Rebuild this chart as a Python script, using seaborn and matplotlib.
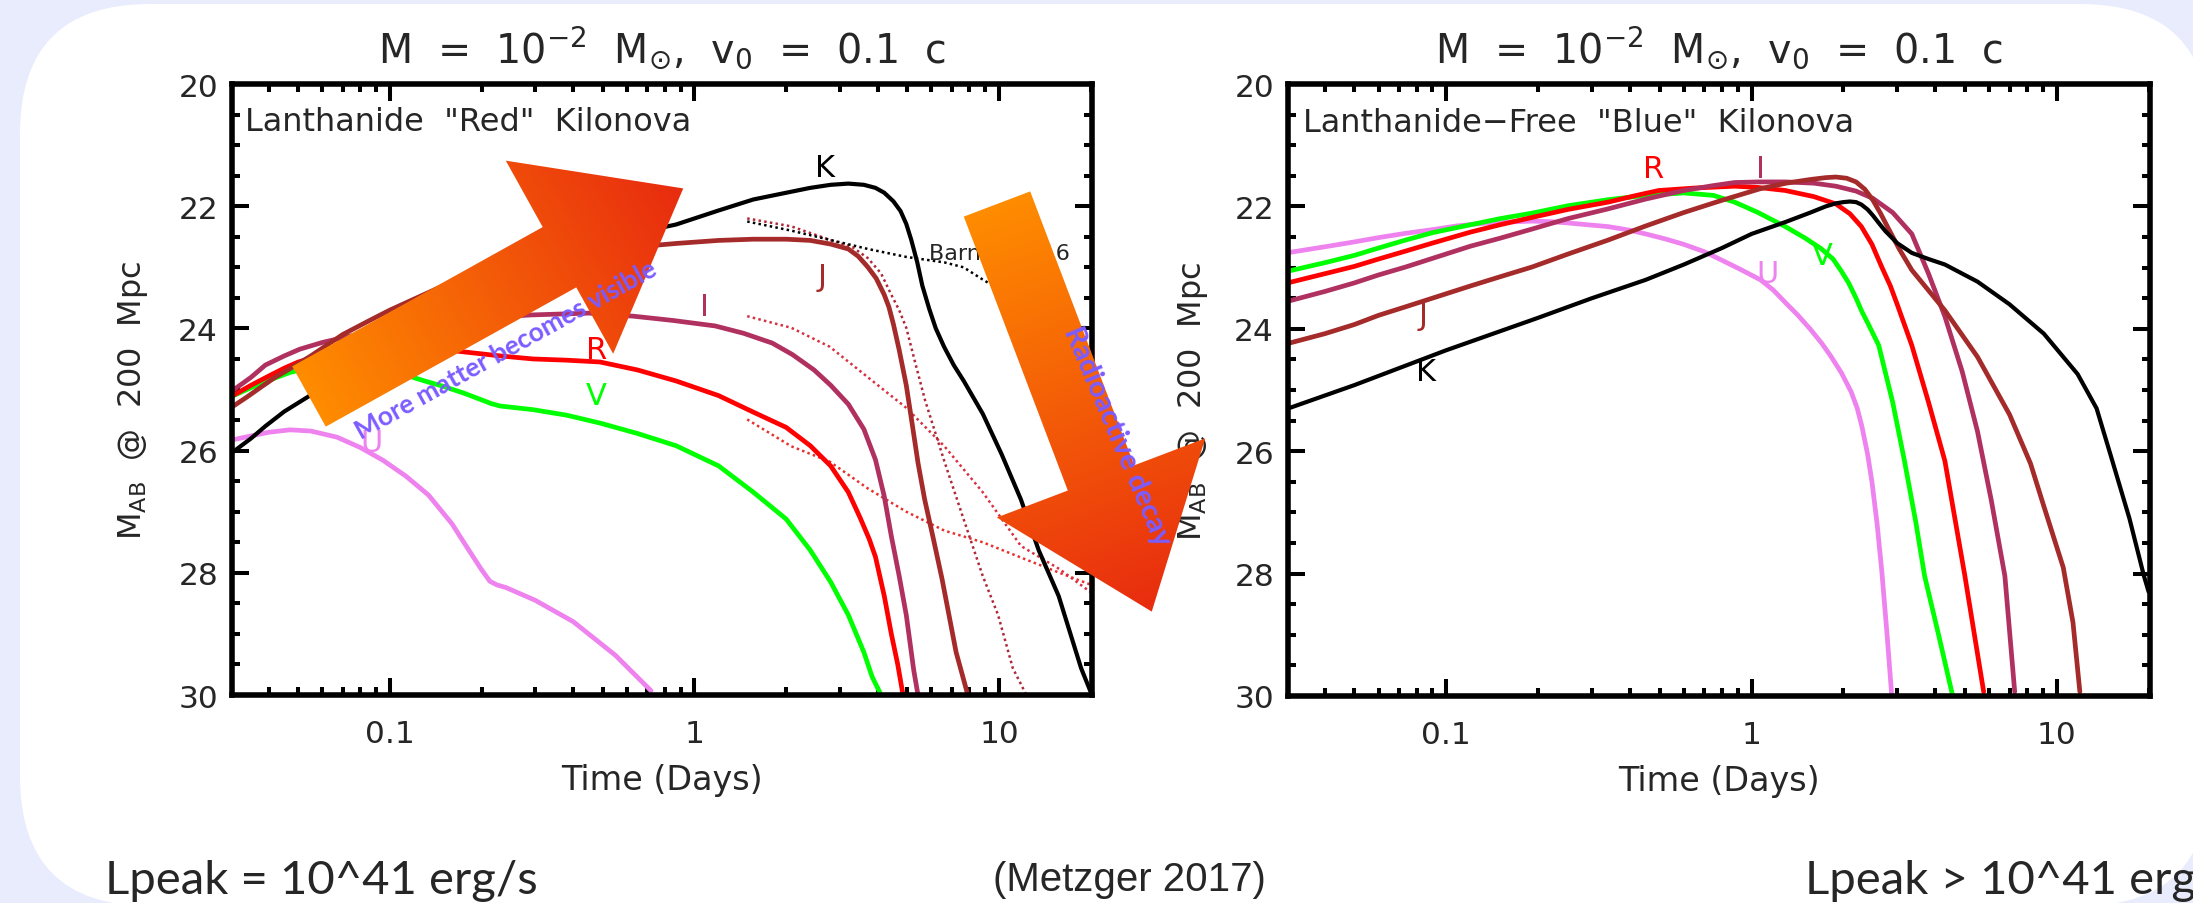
import numpy as np
import matplotlib
matplotlib.use("Agg")
import matplotlib.pyplot as plt
import seaborn as sns
from matplotlib.patches import Polygon, FancyBboxPatch
from matplotlib.ticker import MultipleLocator, FixedLocator, LogLocator, NullFormatter

# ---------------- Lanthanide "Red" kilonova (time in days, M_AB @ 200 Mpc)
red_U_t = [0.03, 0.035, 0.04, 0.047, 0.055, 0.067, 0.08, 0.095, 0.113, 0.134, 0.16, 0.18, 0.2, 0.213, 0.225,
           0.24, 0.3, 0.4, 0.55, 0.72]
red_U_m = [25.83, 25.76, 25.7, 25.66, 25.68, 25.78, 25.95, 26.16, 26.42, 26.73, 27.2, 27.6, 27.95, 28.14, 28.2,
           28.24, 28.45, 28.8, 29.35, 29.93]

red_V_t = [0.03, 0.035, 0.04, 0.047, 0.055, 0.065, 0.077, 0.09, 0.1, 0.1135, 0.13, 0.15, 0.175, 0.2, 0.215, 0.23,
           0.295, 0.38, 0.49, 0.65, 0.87, 1.2, 1.56, 2.0, 2.4, 2.8, 3.2, 3.6, 3.83, 4.1]
red_V_m = [25.12, 24.97, 24.85, 24.72, 24.64, 24.6, 24.6, 24.65, 24.7, 24.77, 24.86, 24.95, 25.06, 25.17, 25.23, 25.27,
           25.33, 25.42, 25.55, 25.72, 25.92, 26.25, 26.68, 27.12, 27.63, 28.15, 28.69, 29.3, 29.7, 30.0]

red_R_t = [0.03, 0.035, 0.04, 0.045, 0.05, 0.06, 0.07, 0.085, 0.1, 0.12, 0.14, 0.179, 0.23, 0.295, 0.38, 0.49, 0.65,
           0.87, 1.2, 1.56, 2.0, 2.4, 2.8, 3.2, 3.5, 3.75, 3.93, 4.2, 4.43, 4.65, 4.84]
red_R_m = [25.12, 24.93, 24.78, 24.65, 24.55, 24.43, 24.36, 24.31, 24.3, 24.31, 24.33, 24.39, 24.45, 24.5, 24.52, 24.55,
           24.68, 24.86, 25.1, 25.37, 25.62, 25.92, 26.25, 26.68, 27.1, 27.45, 27.74, 28.38, 29.0, 29.5, 30.0]

red_I_t = [0.03, 0.035, 0.039, 0.045, 0.0506, 0.06, 0.069, 0.085, 0.1, 0.125, 0.15, 0.2, 0.29, 0.45, 0.63, 0.85, 1.17,
           1.45, 1.8, 2.1, 2.47, 2.8, 3.2, 3.6, 3.93, 4.2, 4.43, 4.7, 4.96, 5.25, 5.42]
red_I_m = [25.04, 24.8, 24.6, 24.45, 24.34, 24.23, 24.16, 24.06, 24.0, 23.94, 23.9, 23.83, 23.78, 23.75, 23.8, 23.87,
           23.96, 24.08, 24.24, 24.43, 24.68, 24.93, 25.24, 25.65, 26.15, 26.75, 27.4, 28.05, 28.69, 29.6, 30.0]

red_J_t = [0.03, 0.034, 0.038, 0.042, 0.047, 0.055, 0.07, 0.085, 0.1, 0.125, 0.15, 0.2, 0.25, 0.32, 0.4, 0.5, 0.6,
           0.87, 1.2, 1.56, 2.0, 2.4, 2.8, 3.2, 3.45, 3.7, 3.95, 4.2, 4.35, 4.5, 4.7, 4.96, 5.2, 5.42, 5.7, 6.08, 6.5,
           7.23, 7.9]
red_J_m = [25.3, 25.12, 24.95, 24.8, 24.66, 24.45, 24.1, 23.88, 23.7, 23.48, 23.3, 23.12, 23.0, 22.89, 22.8, 22.73,
           22.68, 22.61, 22.56, 22.54, 22.54, 22.56, 22.62, 22.7, 22.82, 22.99, 23.18, 23.45, 23.65, 23.93, 24.35,
           24.93, 25.6, 26.2, 26.8, 27.43, 28.1, 29.3, 30.0]

red_K_t = [0.03, 0.035, 0.039, 0.045, 0.0546, 0.065, 0.08, 0.1, 0.12, 0.15, 0.2, 0.27, 0.35, 0.45, 0.55, 0.7, 0.87,
           1.2, 1.56, 2.0, 2.4, 2.8, 3.2, 3.6, 3.93, 4.2, 4.5, 4.75, 4.96, 5.15, 5.39, 5.6, 5.9, 6.2, 6.6, 7.1, 7.66,
           8.85, 10.2, 11.8, 13.5, 15.7, 18.6, 20.0]
red_K_m = [26.05, 25.8, 25.6, 25.36, 25.1, 24.88, 24.6, 24.33, 24.1, 23.82, 23.5, 23.2, 22.95, 22.72, 22.55, 22.4,
           22.3, 22.07, 21.89, 21.78, 21.7, 21.65, 21.63, 21.65, 21.7, 21.78, 21.92, 22.08, 22.29, 22.55, 22.92, 23.3,
           23.68, 24.0, 24.3, 24.6, 24.86, 25.4, 26.06, 26.8, 27.63, 28.38, 29.56, 29.95]

# Barnes et al. (2016) comparison models (dotted)
barnes_K_t = [1.49, 2.08, 2.78, 3.71, 4.96, 6.62, 7.65, 8.84, 9.93, 11.1]
barnes_K_m = [22.25, 22.4, 22.55, 22.7, 22.83, 22.92, 23.0, 23.2, 23.35, 23.55]

barnes_J_t = [1.49, 2.08, 2.78, 3.3, 3.71, 4.1, 4.41, 4.7, 4.96, 5.3, 5.72, 6.62, 7.65, 8.84, 9.93, 11.1, 12.3]
barnes_J_m = [22.2, 22.33, 22.55, 22.67, 22.85, 23.1, 23.43, 23.7, 23.99, 24.55, 25.18, 26.18, 27.12, 28.05, 28.69,
              29.56, 30.0]

barnes_I_t = [1.49, 2.08, 2.78, 3.71, 4.96, 6.62, 8.84, 11.8, 15.8, 19.9]
barnes_I_m = [23.8, 23.99, 24.3, 24.8, 25.3, 25.93, 26.68, 27.56, 27.94, 28.31]

barnes_R_t = [1.49, 2.08, 2.78, 3.71, 4.96, 6.62, 8.84, 11.8, 15.8, 19.9]
barnes_R_m = [25.49, 25.93, 26.18, 26.62, 27.0, 27.31, 27.5, 27.75, 28.0, 28.19]

# ---------------- Lanthanide-free "Blue" kilonova
blue_U_t = [0.0308, 0.04, 0.05, 0.06, 0.0736, 0.09, 0.108, 0.13, 0.15, 0.17, 0.191, 0.22, 0.25, 0.29, 0.339, 0.4,
            0.45, 0.52, 0.6, 0.7, 0.8, 0.92, 1.07, 1.18, 1.29, 1.42, 1.56, 1.7, 1.82, 1.97, 2.12, 2.22, 2.3, 2.4,
            2.48, 2.58, 2.67, 2.78, 2.88]
blue_U_m = [22.75, 22.66, 22.58, 22.51, 22.44, 22.38, 22.32, 22.28, 22.26, 22.25, 22.24, 22.25, 22.27, 22.3, 22.33,
            22.39, 22.45, 22.53, 22.62, 22.74, 22.88, 23.03, 23.2, 23.37, 23.57, 23.78, 24.01, 24.24, 24.45, 24.72,
            25.03, 25.3, 25.6, 26.05, 26.5, 27.2, 27.95, 29.0, 30.0]

blue_V_t = [0.0308, 0.04, 0.05, 0.06, 0.0736, 0.09, 0.12, 0.15, 0.191, 0.25, 0.339, 0.45, 0.6, 0.75, 0.88, 1.05, 1.29,
            1.5, 1.69, 1.85, 1.97, 2.08, 2.2, 2.3, 2.4, 2.5, 2.61, 2.9, 3.17, 3.45, 3.69, 4.1, 4.56]
blue_V_m = [23.05, 22.92, 22.8, 22.68, 22.55, 22.43, 22.3, 22.2, 22.11, 21.99, 21.89, 21.82, 21.78, 21.82, 21.93, 22.1,
            22.33, 22.52, 22.69, 22.86, 23.06, 23.25, 23.5, 23.72, 23.9, 24.08, 24.27, 25.2, 26.16, 27.15, 28.04, 29.0,
            30.0]

blue_R_t = [0.0308, 0.04, 0.05, 0.06, 0.0736, 0.09, 0.12, 0.15, 0.191, 0.25, 0.339, 0.42, 0.497, 0.65, 0.88, 1.05,
            1.29, 1.6, 1.89, 2.1, 2.29, 2.48, 2.67, 2.85, 3.0, 3.35, 3.8, 4.3, 5.0, 5.76]
blue_R_m = [23.24, 23.1, 22.98, 22.86, 22.73, 22.6, 22.42, 22.3, 22.18, 22.05, 21.93, 21.82, 21.74, 21.7, 21.67, 21.69,
            21.74, 21.84, 21.96, 22.12, 22.33, 22.62, 22.99, 23.3, 23.6, 24.27, 25.2, 26.16, 28.04, 29.93]

blue_I_t = [0.0308, 0.04, 0.05, 0.06, 0.0736, 0.09, 0.12, 0.15, 0.191, 0.25, 0.339, 0.45, 0.6, 0.75, 0.88, 1.05, 1.29,
            1.6, 1.89, 2.2, 2.5, 2.9, 3.35, 3.8, 4.3, 4.9, 5.5, 6.1, 6.76, 7.28]
blue_I_m = [23.54, 23.39, 23.25, 23.12, 22.99, 22.85, 22.65, 22.52, 22.37, 22.2, 22.04, 21.88, 21.74, 21.66, 21.61,
            21.6, 21.6, 21.62, 21.67, 21.75, 21.87, 22.1, 22.45, 23.1, 23.8, 24.7, 25.68, 26.8, 28.04, 29.93]

blue_J_t = [0.0308, 0.04, 0.05, 0.06, 0.0736, 0.09, 0.12, 0.15, 0.191, 0.25, 0.339, 0.45, 0.6, 0.8, 1.07, 1.3, 1.56,
            1.75, 1.89, 2.05, 2.2, 2.35, 2.5, 2.65, 2.8, 3.05, 3.35, 4.3, 5.5, 7.0, 8.2, 9.07, 10.5, 11.3, 11.9]
blue_J_m = [24.23, 24.08, 23.93, 23.78, 23.64, 23.5, 23.3, 23.15, 22.99, 22.78, 22.55, 22.32, 22.1, 21.9, 21.71, 21.62,
            21.56, 21.53, 21.52, 21.54, 21.6, 21.72, 21.9, 22.12, 22.35, 22.7, 23.04, 23.7, 24.46, 25.4, 26.2, 26.9,
            27.9, 28.8, 29.93]

blue_K_t = [0.0308, 0.05, 0.1, 0.2, 0.3, 0.45, 0.6, 0.8, 1.0, 1.3, 1.56, 1.75, 1.89, 2.0, 2.1, 2.2, 2.29, 2.4, 2.5,
            2.62, 2.74, 3.0, 3.35, 3.8, 4.3, 5.5, 7.0, 9.07, 11.7, 13.5, 15.0, 17.3, 19.3, 20.0]
blue_K_m = [25.29, 24.92, 24.35, 23.82, 23.5, 23.2, 22.95, 22.68, 22.45, 22.25, 22.1, 22.0, 21.95, 21.93, 21.92, 21.93,
            21.97, 22.05, 22.15, 22.28, 22.4, 22.6, 22.76, 22.86, 22.95, 23.23, 23.6, 24.08, 24.74, 25.3, 26.06, 27.1,
            28.04, 28.3]

# band label positions (time, magnitude)
red_labels = {"K": (2.69, 21.36), "J": (2.63, 23.15), "I": (1.08, 23.64),
              "R": (0.477, 24.34), "V": (0.477, 25.1), "U": (0.087, 25.86)}
blue_labels = {"R": (0.478, 21.38), "I": (1.066, 21.38), "V": (1.70, 22.8),
               "U": (1.13, 23.1), "J": (0.084, 23.79), "K": (0.0858, 24.7)}

band_colors = {"U": "#EE82EE", "V": "#00FF00", "R": "#FF0000",
               "I": "#B03060", "J": "#A52A2A", "K": "#000000"}

W, H = 2193, 904
BG = "#E9ECFC"
PURPLE = "#7C5CFF"

sns.set_style("ticks")
plt.rcParams["font.family"] = ["DejaVu Sans"]
plt.rcParams["mathtext.fontset"] = "dejavusans"

fig = plt.figure(figsize=(W / 100, H / 100), dpi=100, facecolor=BG)

# slide card behind the plots
bg = fig.add_axes([0, 0, 1, 1], zorder=0)
bg.set_xlim(0, W)
bg.set_ylim(H, 0)
bg.axis("off")
bg.add_patch(FancyBboxPatch((20, 5), 2190, 902, boxstyle="round,pad=0,rounding_size=130",
                            fc="white", ec="none"))

ax_l = fig.add_axes([232 / W, 1 - 696 / H, 860 / W, 611 / H], zorder=2)
ax_r = fig.add_axes([1288 / W, 1 - 697 / H, 862 / W, 612 / H], zorder=2)

title = r"M  =  10$^{-2}$  M$_{\odot}$,  v$_{0}$  =  0.1  c"


def style_axes(ax, ylab_x):
    ax.set_facecolor("white")
    ax.set_xscale("log")
    ax.set_xlim(0.0303, 20.2)
    ax.set_ylim(30, 20)
    ax.yaxis.set_major_locator(FixedLocator([20, 22, 24, 26, 28, 30]))
    ax.yaxis.set_minor_locator(MultipleLocator(0.5))
    ax.set_xticks([0.1, 1, 10], labels=["0.1", "1", "10"])
    ax.xaxis.set_minor_locator(LogLocator(base=10, subs=np.arange(2, 10), numticks=20))
    ax.xaxis.set_minor_formatter(NullFormatter())
    ax.tick_params(which="both", direction="in", top=True, right=True, width=2.9, color="black")
    ax.tick_params(which="major", length=12, labelsize=22.5, pad=10)
    ax.tick_params(axis="x", which="major", pad=17)
    ax.tick_params(which="minor", length=6)
    for sp in ax.spines.values():
        sp.set_linewidth(4)
        sp.set_color("black")
    ax.set_xlabel("Time (Days)", fontsize=24)
    ax.xaxis.set_label_coords(0.5, -0.111)
    ax.set_ylabel(r"M$_{\mathrm{AB}}$  @  200  Mpc", fontsize=23)
    ax.yaxis.set_label_coords(ylab_x, 0.483)
    ax.set_title(title, fontsize=28.5, y=1.035, pad=0)


def draw_band(ax, t, m, band, lw=3.4, ls="-", color=None):
    sns.lineplot(x=t, y=m, ax=ax, color=color or band_colors[band], linewidth=lw,
                 linestyle=ls, estimator=None, sort=False, legend=False)


dot = (0, (1, 1.3))
# red kilonova panel
draw_band(ax_l, barnes_R_t, barnes_R_m, "R", lw=1.8, ls=dot, color="#E8302F")
draw_band(ax_l, barnes_I_t, barnes_I_m, "R", lw=1.8, ls=dot, color="#D83040")
draw_band(ax_l, barnes_J_t, barnes_J_m, "J", lw=1.8, ls=dot, color="#B02838")
draw_band(ax_l, barnes_K_t, barnes_K_m, "K", lw=1.8, ls=dot, color="black")
draw_band(ax_l, red_U_t, red_U_m, "U")
draw_band(ax_l, red_V_t, red_V_m, "V")
draw_band(ax_l, red_R_t, red_R_m, "R")
draw_band(ax_l, red_I_t, red_I_m, "I")
draw_band(ax_l, red_J_t, red_J_m, "J")
draw_band(ax_l, red_K_t, red_K_m, "K", lw=3.0)

# blue kilonova panel
draw_band(ax_r, blue_U_t, blue_U_m, "U")
draw_band(ax_r, blue_V_t, blue_V_m, "V")
draw_band(ax_r, blue_R_t, blue_R_m, "R")
draw_band(ax_r, blue_I_t, blue_I_m, "I")
draw_band(ax_r, blue_J_t, blue_J_m, "J")
draw_band(ax_r, blue_K_t, blue_K_m, "K", lw=3.0)

style_axes(ax_l, -0.095)
style_axes(ax_r, -0.090)

for ax, labels in ((ax_l, red_labels), (ax_r, blue_labels)):
    for band, (t, m) in labels.items():
        ax.text(t, m, band, color=band_colors[band], fontsize=22, ha="center", va="center")

ax_l.text(5.89, 22.77, "Barnes 2016", fontsize=16, ha="left", va="center")
ax_l.text(0.015, 0.924, 'Lanthanide  "Red"  Kilonova', transform=ax_l.transAxes,
          fontsize=23, ha="left", va="baseline")
ax_r.text(0.017, 0.924, 'Lanthanide\u2212Free  "Blue"  Kilonova', transform=ax_r.transAxes,
          fontsize=23, ha="left", va="baseline")

# overlay layer: gradient arrows and slide captions
ov = fig.add_axes([0, 0, 1, 1], zorder=5)
ov.patch.set_alpha(0)
ov.axis("off")


def gradient_arrow(ax, tail, direction, shaft_half, shaft_len, head_half, head_len, c0, c1):
    d = np.asarray(direction, float)
    d /= np.hypot(*d)
    n = np.array([-d[1], d[0]])
    p0 = np.asarray(tail, float)
    base = p0 + d * shaft_len
    pts = np.array([p0 + n * shaft_half, base + n * shaft_half, base + n * head_half,
                    p0 + d * (shaft_len + head_len), base - n * head_half,
                    base - n * shaft_half, p0 - n * shaft_half])
    poly = Polygon(pts, closed=True, fc="none", ec="none")
    ax.add_patch(poly)
    x0, y0 = pts.min(0) - 2
    x1, y1 = pts.max(0) + 2
    X, Y = np.meshgrid(np.linspace(x0, x1, int(x1 - x0)), np.linspace(y0, y1, int(y1 - y0)))
    s = np.clip(((X - p0[0]) * d[0] + (Y - p0[1]) * d[1]) / (shaft_len + head_len), 0, 1)[..., None]
    img = (1 - s) * np.array(c0) + s * np.array(c1)
    im = ax.imshow(img, extent=(x0, x1, y1, y0), origin="upper", aspect="auto",
                   interpolation="bilinear", zorder=3)
    im.set_clip_path(poly)


orange = (1.0, 0.55, 0.0)
red = (0.91, 0.17, 0.06)
gradient_arrow(ov, (309, 397.5), (0.874, -0.486), 34.5, 286.6, 110.5, 141.6, orange, red)
gradient_arrow(ov, (997, 205), (0.355, 0.935), 35.5, 293, 111.5, 143, orange, red)
ov.set_xlim(0, W)
ov.set_ylim(H, 0)

ov.text(506, 350, "More matter becomes visible", rotation=29.1, rotation_mode="anchor",
        ha="center", va="center", color=PURPLE, fontsize=19, family="Lato",
        fontweight="bold", zorder=6)
ov.text(1117, 436, "Radioactive decay", rotation=-67, rotation_mode="anchor",
        ha="center", va="center", color=PURPLE, fontsize=21, family="Lato",
        fontweight="bold", zorder=6)

ov.text(105, 894, "Lpeak = 10^41 erg/s", fontsize=34, family="Lato", ha="left", va="baseline")
ov.text(1805, 894, "Lpeak > 10^41 erg/s", fontsize=34, family="Lato", ha="left", va="baseline")
ov.text(1129, 891, "(Metzger 2017)", fontsize=29, family="Liberation Sans", ha="center", va="baseline")

fig.savefig("out.png", dpi=100, facecolor=BG)
